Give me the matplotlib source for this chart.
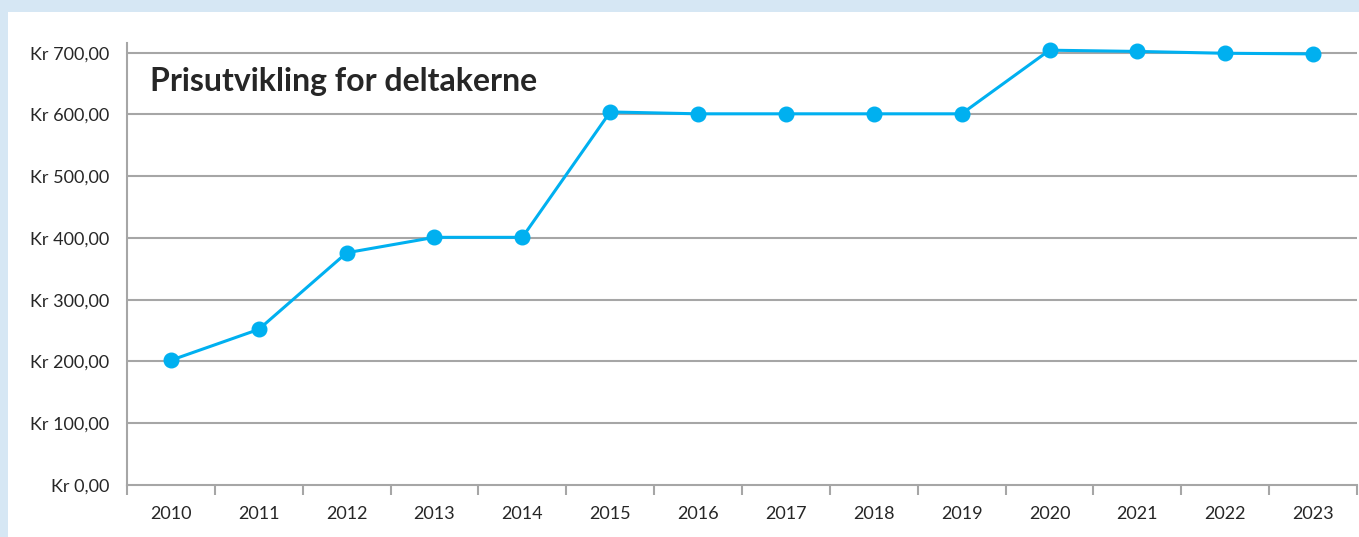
import matplotlib
matplotlib.use("Agg")
import matplotlib.pyplot as plt
import matplotlib.patches as mpp
import numpy as np

years = ["2010", "2011", "2012", "2013", "2014", "2015", "2016",
         "2017", "2018", "2019", "2020", "2021", "2022", "2023"]
prices = [202, 252, 376, 401, 401, 604, 601, 601, 601, 601, 704, 702, 699, 698]
yticks = [0, 100, 200, 300, 400, 500, 600, 700]
ylabels = ["Kr 0,00", "Kr 100,00", "Kr 200,00", "Kr 300,00",
           "Kr 400,00", "Kr 500,00", "Kr 600,00", "Kr 700,00"]
title = "Prisutvikling for deltakerne"

plt.rcParams['font.family'] = ['Lato', 'DejaVu Sans']

W, H = 1359, 537
fig = plt.figure(figsize=(W / 100, H / 100), dpi=100, facecolor="#d6e7f4")
fig.patches.append(mpp.Rectangle((8 / W, 0), 1, 1 - 12 / H, transform=fig.transFigure,
                                 facecolor="white", edgecolor="none", zorder=-5))

ax = fig.add_axes([127 / W, 1 - 485 / H, (1357 - 127) / W, (485 - 43.4) / H])
ax.set_zorder(2)
ax.set_facecolor("none")

grid = "#a6a6a6"
txt = "#262626"

x = np.arange(len(years)) + 0.5
ax.plot(x, prices, color="#00b0f0", lw=2.2, marker="o", ms=10.5, zorder=3, clip_on=False)

ax.set_xlim(0, len(years))
ax.set_ylim(0, 715)
ax.set_yticks(yticks)
ax.set_yticklabels(ylabels, fontsize=13, color=txt)
ax.tick_params(axis="y", which="major", length=0, pad=13)
ax.set_yticks([0], minor=True)
ax.tick_params(axis="y", which="minor", length=7, width=1.5, color=grid)
for v in yticks[1:]:
    ax.axhline(v, color=grid, lw=1.5, zorder=1)

ax.set_xticks(x)
ax.set_xticklabels(years, fontsize=13, color=txt)
ax.set_xticks(np.arange(len(years) + 1), minor=True)
ax.tick_params(axis="x", which="major", length=0, pad=15)
ax.tick_params(axis="x", which="minor", length=7, width=1.5, color=grid, direction="out")

for s in ["top", "right"]:
    ax.spines[s].set_visible(False)
for s in ["left", "bottom"]:
    ax.spines[s].set_color(grid)
    ax.spines[s].set_linewidth(1.5)

fig.text(150 / W, 1 - 82 / H, title, fontsize=23, fontweight="bold", color=txt,
         ha="left", va="center", zorder=5)

fig.savefig("out.png", dpi=100, facecolor=fig.get_facecolor())
